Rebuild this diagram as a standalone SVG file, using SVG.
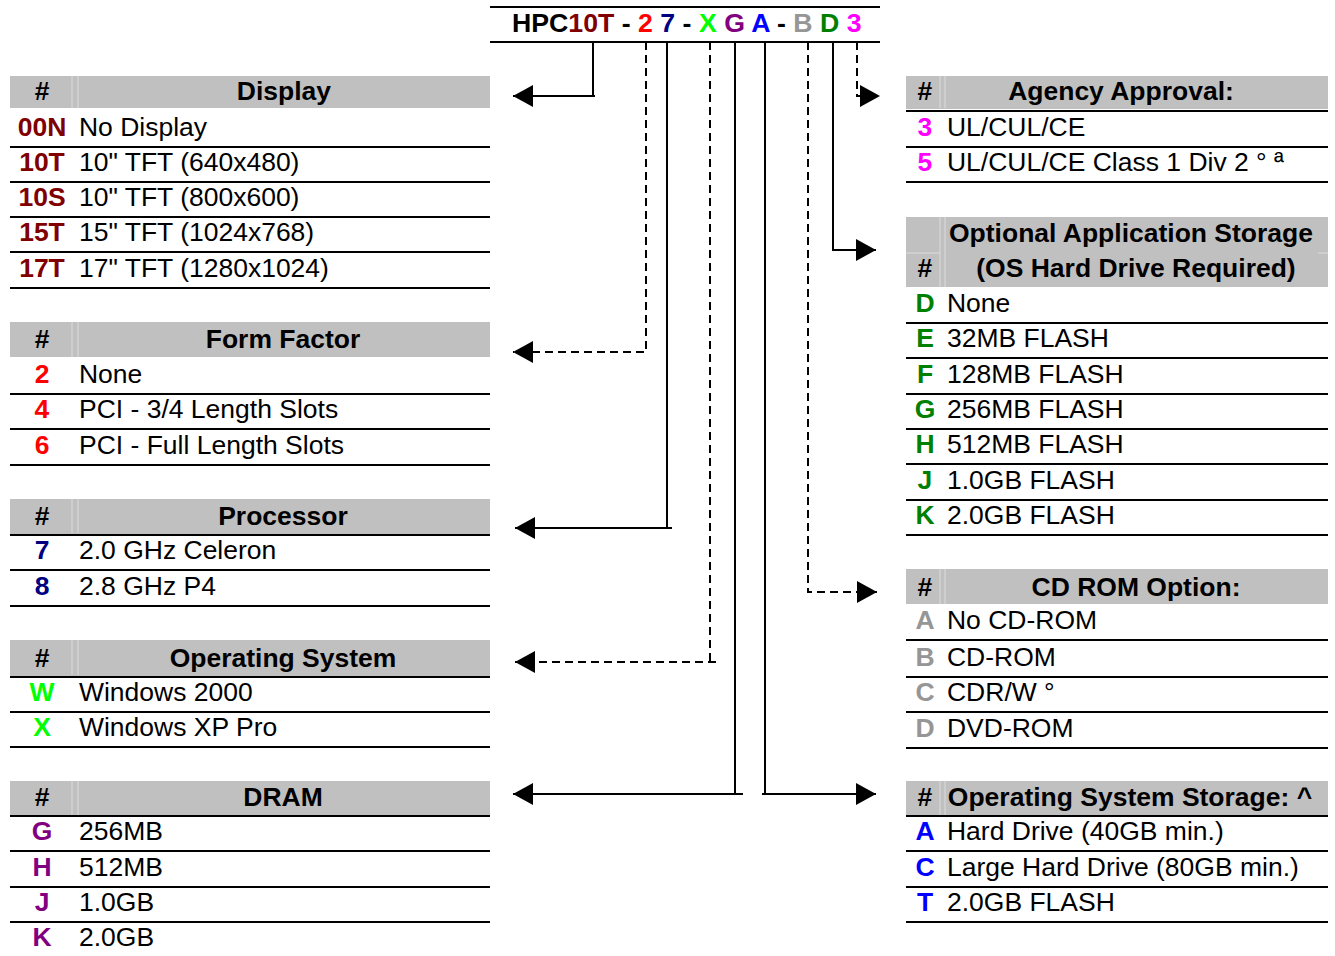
<svg xmlns="http://www.w3.org/2000/svg" width="1335" height="956" viewBox="0 0 1335 956">
<style>
text{font-family:"Liberation Sans",Arial,Helvetica,sans-serif;}
.t{font-size:25px;fill:#000;transform-box:fill-box;transform-origin:0 0;transform:scaleX(1.06);}
.c{text-anchor:middle;transform-origin:50% 0;}
.b{font-weight:bold;}
.hdr{fill:#C0C0C0;}
.sep{stroke:#DCDCDC;stroke-width:1;}
.rl{stroke:#000;stroke-width:2;}
.cn{stroke:#000;stroke-width:2;fill:none;}
.d{stroke-dasharray:8 5;}
.pn{font-size:26.7px;font-weight:bold;}
.c1{fill:#800000}.c2{fill:#FF0000}.c3{fill:#000080}.c4{fill:#00FF00}.c5{fill:#800080}
.c6{fill:#0000FF}.c7{fill:#969696}.c8{fill:#008000}.c9{fill:#FF00FF}
</style>
<defs>
<marker id="ah" viewBox="0 0 20 22" refX="20" refY="11" markerWidth="20" markerHeight="22" markerUnits="userSpaceOnUse" orient="auto">
<path d="M0,0 L20,11 L0,22 z" fill="#000"/>
</marker>
</defs>
<rect width="1335" height="956" fill="#fff"/>

<g id="partnumber">
<line class="rl" x1="490" y1="7" x2="880" y2="7"/>
<line class="rl" x1="490" y1="42" x2="880" y2="42"/>
<text class="pn" x="512" y="32" xml:space="preserve">HPC<tspan class="c1">10T</tspan> - <tspan class="c2">2</tspan> <tspan class="c3">7</tspan> - <tspan class="c4">X</tspan> <tspan class="c5">G</tspan> <tspan class="c6">A</tspan> - <tspan class="c7">B</tspan> <tspan class="c8">D</tspan> <tspan class="c9">3</tspan></text>
</g>

<g id="connectors">
<path class="cn" d="M593,42 V96"/>
<path class="cn" d="M595,96 H513" marker-end="url(#ah)"/>
<path class="cn d" d="M646,42 V352 H513" marker-end="url(#ah)"/>
<path class="cn" d="M667,42 V528"/>
<path class="cn" d="M672,528 H515" marker-end="url(#ah)"/>
<path class="cn d" d="M710,42 V662"/>
<path class="cn d" d="M716,662 H515" marker-end="url(#ah)"/>
<path class="cn" d="M735,42 V794"/>
<path class="cn" d="M743,794 H513" marker-end="url(#ah)"/>
<path class="cn" d="M765,42 V794"/>
<path class="cn" d="M762,794 H876" marker-end="url(#ah)"/>
<path class="cn d" d="M808,42 V592 H877" marker-end="url(#ah)"/>
<path class="cn" d="M833,42 V250 H876" marker-end="url(#ah)"/>
<path class="cn d" d="M857,42 V96 H880" marker-end="url(#ah)"/>
</g>

<g id="display">
<rect class="hdr" x="10" y="76" width="480" height="32"/>
<line class="sep" x1="72" y1="76" x2="72" y2="108"/><line class="sep" x1="78" y1="76" x2="78" y2="108"/>
<text class="t b c" x="42" y="100">#</text>
<text class="t b c" x="284" y="100">Display</text>
<text class="t b c c1" x="42" y="136">00N</text><text class="t" x="79" y="136">No Display</text>
<line class="rl" x1="10" y1="147" x2="490" y2="147"/>
<text class="t b c c1" x="42" y="171">10T</text><text class="t" x="79" y="171">10" TFT (640x480)</text>
<line class="rl" x1="10" y1="182" x2="490" y2="182"/>
<text class="t b c c1" x="42" y="206">10S</text><text class="t" x="79" y="206">10" TFT (800x600)</text>
<line class="rl" x1="10" y1="217" x2="490" y2="217"/>
<text class="t b c c1" x="42" y="241">15T</text><text class="t" x="79" y="241">15" TFT (1024x768)</text>
<line class="rl" x1="10" y1="252" x2="490" y2="252"/>
<text class="t b c c1" x="42" y="277">17T</text><text class="t" x="79" y="277">17" TFT (1280x1024)</text>
<line class="rl" x1="10" y1="288" x2="490" y2="288"/>
</g>

<g id="formfactor">
<rect class="hdr" x="10" y="322" width="480" height="35"/>
<line class="sep" x1="72" y1="322" x2="72" y2="357"/><line class="sep" x1="78" y1="322" x2="78" y2="357"/>
<text class="t b c" x="42" y="348">#</text>
<text class="t b c" x="283" y="348">Form Factor</text>
<text class="t b c c2" x="42" y="383">2</text><text class="t" x="79" y="383">None</text>
<line class="rl" x1="10" y1="394" x2="490" y2="394"/>
<text class="t b c c2" x="42" y="418">4</text><text class="t" x="79" y="418">PCI - 3/4 Length Slots</text>
<line class="rl" x1="10" y1="429" x2="490" y2="429"/>
<text class="t b c c2" x="42" y="454">6</text><text class="t" x="79" y="454">PCI - Full Length Slots</text>
<line class="rl" x1="10" y1="465" x2="490" y2="465"/>
</g>

<g id="processor">
<rect class="hdr" x="10" y="499" width="480" height="35"/>
<line class="sep" x1="72" y1="499" x2="72" y2="533"/><line class="sep" x1="78" y1="499" x2="78" y2="533"/>
<text class="t b c" x="42" y="525">#</text>
<text class="t b c" x="283" y="525">Processor</text>
<line class="rl" x1="10" y1="535" x2="490" y2="535"/>
<text class="t b c c3" x="42" y="559">7</text><text class="t" x="79" y="559">2.0 GHz Celeron</text>
<line class="rl" x1="10" y1="570" x2="490" y2="570"/>
<text class="t b c c3" x="42" y="595">8</text><text class="t" x="79" y="595">2.8 GHz P4</text>
<line class="rl" x1="10" y1="606" x2="490" y2="606"/>
</g>

<g id="os">
<rect class="hdr" x="10" y="640" width="480" height="36"/>
<line class="sep" x1="72" y1="640" x2="72" y2="675"/><line class="sep" x1="78" y1="640" x2="78" y2="675"/>
<text class="t b c" x="42" y="667">#</text>
<text class="t b c" x="283" y="667">Operating System</text>
<line class="rl" x1="10" y1="677" x2="490" y2="677"/>
<text class="t b c c4" x="42" y="701">W</text><text class="t" x="79" y="701">Windows 2000</text>
<line class="rl" x1="10" y1="712" x2="490" y2="712"/>
<text class="t b c c4" x="42" y="736">X</text><text class="t" x="79" y="736">Windows XP Pro</text>
<line class="rl" x1="10" y1="747" x2="490" y2="747"/>
</g>

<g id="dram">
<rect class="hdr" x="10" y="781" width="480" height="35"/>
<line class="sep" x1="72" y1="781" x2="72" y2="815"/><line class="sep" x1="78" y1="781" x2="78" y2="815"/>
<text class="t b c" x="42" y="806">#</text>
<text class="t b c" x="283" y="806">DRAM</text>
<line class="rl" x1="10" y1="816" x2="490" y2="816"/>
<text class="t b c c5" x="42" y="840">G</text><text class="t" x="79" y="840">256MB</text>
<line class="rl" x1="10" y1="851" x2="490" y2="851"/>
<text class="t b c c5" x="42" y="876">H</text><text class="t" x="79" y="876">512MB</text>
<line class="rl" x1="10" y1="887" x2="490" y2="887"/>
<text class="t b c c5" x="42" y="911">J</text><text class="t" x="79" y="911">1.0GB</text>
<line class="rl" x1="10" y1="922" x2="490" y2="922"/>
<text class="t b c c5" x="42" y="946">K</text><text class="t" x="79" y="946">2.0GB</text>
</g>

<g id="agency">
<rect class="hdr" x="906" y="76" width="422" height="33"/>
<line class="sep" x1="940" y1="76" x2="940" y2="108"/><line class="sep" x1="945" y1="76" x2="945" y2="108"/>
<text class="t b c" x="925" y="100">#</text>
<text class="t b c" x="1121" y="100">Agency Approval:</text>
<line class="rl" x1="906" y1="111" x2="1328" y2="111"/>
<text class="t b c c9" x="925" y="136">3</text><text class="t" x="947" y="136">UL/CUL/CE</text>
<line class="rl" x1="906" y1="147" x2="1328" y2="147"/>
<text class="t b c c9" x="925" y="171">5</text><text class="t" x="947" y="171">UL/CUL/CE Class 1 Div 2 ° ª</text>
<line class="rl" x1="906" y1="182" x2="1328" y2="182"/>
</g>

<g id="appstorage">
<rect class="hdr" x="906" y="217" width="422" height="70"/>
<line class="sep" x1="940" y1="217" x2="940" y2="287"/><line class="sep" x1="945" y1="217" x2="945" y2="287"/>
<line class="sep" x1="906" y1="253" x2="940" y2="253"/><line class="sep" x1="1318" y1="253" x2="1328" y2="253"/>
<text class="t b c" x="1131" y="242">Optional Application Storage</text>
<text class="t b c" x="925" y="277">#</text>
<text class="t b c" x="1136" y="277">(OS Hard Drive Required)</text>
<text class="t b c c8" x="925" y="312">D</text><text class="t" x="947" y="312">None</text>
<line class="rl" x1="906" y1="323" x2="1328" y2="323"/>
<text class="t b c c8" x="925" y="347">E</text><text class="t" x="947" y="347">32MB FLASH</text>
<line class="rl" x1="906" y1="358" x2="1328" y2="358"/>
<text class="t b c c8" x="925" y="383">F</text><text class="t" x="947" y="383">128MB FLASH</text>
<line class="rl" x1="906" y1="394" x2="1328" y2="394"/>
<text class="t b c c8" x="925" y="418">G</text><text class="t" x="947" y="418">256MB FLASH</text>
<line class="rl" x1="906" y1="429" x2="1328" y2="429"/>
<text class="t b c c8" x="925" y="453">H</text><text class="t" x="947" y="453">512MB FLASH</text>
<line class="rl" x1="906" y1="464" x2="1328" y2="464"/>
<text class="t b c c8" x="925" y="489">J</text><text class="t" x="947" y="489">1.0GB FLASH</text>
<line class="rl" x1="906" y1="500" x2="1328" y2="500"/>
<text class="t b c c8" x="925" y="524">K</text><text class="t" x="947" y="524">2.0GB FLASH</text>
<line class="rl" x1="906" y1="535" x2="1328" y2="535"/>
</g>

<g id="cdrom">
<rect class="hdr" x="906" y="569" width="422" height="35"/>
<line class="sep" x1="940" y1="569" x2="940" y2="604"/><line class="sep" x1="945" y1="569" x2="945" y2="604"/>
<text class="t b c" x="925" y="596">#</text>
<text class="t b c" x="1136" y="596">CD ROM Option:</text>
<text class="t b c c7" x="925" y="629">A</text><text class="t" x="947" y="629">No CD-ROM</text>
<line class="rl" x1="906" y1="640" x2="1328" y2="640"/>
<text class="t b c c7" x="925" y="666">B</text><text class="t" x="947" y="666">CD-ROM</text>
<line class="rl" x1="906" y1="677" x2="1328" y2="677"/>
<text class="t b c c7" x="925" y="701">C</text><text class="t" x="947" y="701">CDR/W °</text>
<line class="rl" x1="906" y1="712" x2="1328" y2="712"/>
<text class="t b c c7" x="925" y="737">D</text><text class="t" x="947" y="737">DVD-ROM</text>
<line class="rl" x1="906" y1="748" x2="1328" y2="748"/>
</g>

<g id="osstorage">
<rect class="hdr" x="906" y="781" width="422" height="35"/>
<line class="sep" x1="940" y1="781" x2="940" y2="815"/><line class="sep" x1="945" y1="781" x2="945" y2="815"/>
<text class="t b c" x="925" y="806">#</text>
<text class="t b c" x="1130" y="806">Operating System Storage: ^</text>
<line class="rl" x1="906" y1="816" x2="1328" y2="816"/>
<text class="t b c c6" x="925" y="840">A</text><text class="t" x="947" y="840">Hard Drive (40GB min.)</text>
<line class="rl" x1="906" y1="851" x2="1328" y2="851"/>
<text class="t b c c6" x="925" y="876">C</text><text class="t" x="947" y="876">Large Hard Drive (80GB min.)</text>
<line class="rl" x1="906" y1="887" x2="1328" y2="887"/>
<text class="t b c c6" x="925" y="911">T</text><text class="t" x="947" y="911">2.0GB FLASH</text>
<line class="rl" x1="906" y1="922" x2="1328" y2="922"/>
</g>
</svg>
